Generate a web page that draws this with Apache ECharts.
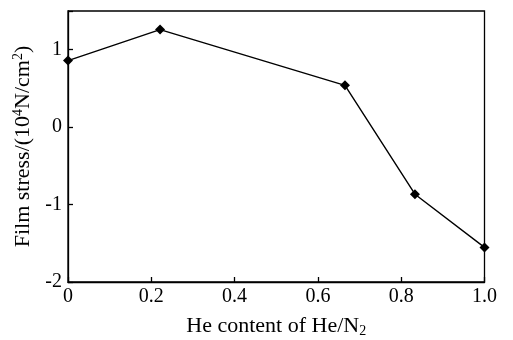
<!DOCTYPE html>
<html><head><meta charset="utf-8">
<script src="https://cdn.jsdelivr.net/npm/echarts@6/dist/echarts.min.js"></script>
<style>html,body{margin:0;padding:0;background:#fff}#c{width:513px;height:340px}</style>
</head><body><div id="c"></div>
<script>
const heContent = [0, 0.221, 0.665, 0.833, 1.0];
const filmStress = [0.86, 1.26, 0.54, -0.866, -1.553];
const xTicks = [0, 0.2, 0.4, 0.6, 0.8, 1.0];
const yTicks = [-2, -1, 0, 1];

const chart = echarts.init(document.getElementById('c'), null, {renderer: 'canvas'});
const font = 'Liberation Serif, Times New Roman, serif';
chart.setOption({
  animation: false,
  backgroundColor: '#fff',
  grid: {left: 68, right: 28.5, top: 11, bottom: 58, containLabel: false, outerBoundsMode: 'none',
    show: true, borderColor: '#000', borderWidth: 1.3},
  xAxis: {
    type: 'value', min: 0, max: 1, interval: 0.2,
    name: '{a|He content of He/N}{sub|2}',
    nameLocation: 'middle', nameGap: 32,
    nameTextStyle: {rich: {
      a: {fontFamily: font, fontSize: 22, color: '#000'},
      sub: {fontFamily: font, fontSize: 14, color: '#000', verticalAlign: 'bottom', padding: [10, 0, 0, 0]}
    }},
    axisLine: {onZero: false, lineStyle: {color: '#000', width: 1.3}},
    axisTick: {inside: true, length: 5, lineStyle: {color: '#000', width: 1.3}},
    splitLine: {show: false},
    axisLabel: {color: '#000', fontFamily: font, fontSize: 20, margin: 5,
      formatter: v => xTicks.some(t => Math.abs(t - v) < 1e-9) ? (v === 0 ? '0' : v.toFixed(1)) : ''}
  },
  yAxis: {
    type: 'value', min: -2, max: 1.5, interval: 1,
    name: '{a|Film stress/(10}{sup|4}{a|N/cm}{sup|2}{a|)}',
    nameLocation: 'middle', nameGap: 32, nameRotate: 90,
    nameTextStyle: {rich: {
      a: {fontFamily: font, fontSize: 22, color: '#000'},
      sup: {fontFamily: font, fontSize: 14, color: '#000', verticalAlign: 'top', padding: [0, 0, 10, 0]}
    }},
    axisLine: {onZero: false, lineStyle: {color: '#000', width: 1.3}},
    axisTick: {inside: true, length: 5, lineStyle: {color: '#000', width: 1.3}},
    splitLine: {show: false},
    axisLabel: {color: '#000', fontFamily: font, fontSize: 20, margin: 6,
      formatter: v => yTicks.indexOf(v) >= 0 ? String(v) : ''}
  },
  series: [{
    type: 'line',
    data: heContent.map((x, i) => [x, filmStress[i]]),
    symbol: 'diamond', symbolSize: 10,
    lineStyle: {color: '#000', width: 1.4},
    itemStyle: {color: '#000'}
  }]
});
</script></body></html>
